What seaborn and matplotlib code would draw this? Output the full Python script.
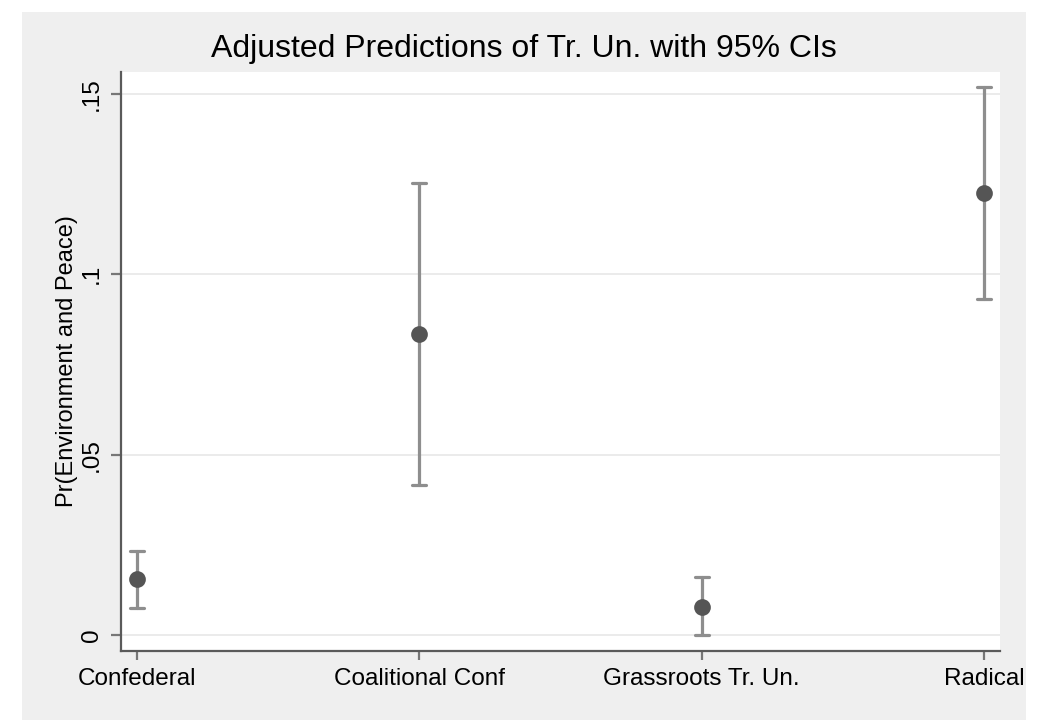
import numpy as np
import pandas as pd
import seaborn as sns
import matplotlib
matplotlib.use("Agg")
import matplotlib.pyplot as plt
from matplotlib.patches import Rectangle

categories = ["Confederal", "Coalitional Conf", "Grassroots Tr. Un.", "Radical"]
estimate = [0.0157, 0.0835, 0.0079, 0.1226]
ci_lower = [0.0076, 0.0417, 0.0000, 0.0932]
ci_upper = [0.0234, 0.1253, 0.0162, 0.1519]
yticks = [0, 0.05, 0.10, 0.15]
yticklabels = ["0", ".05", ".1", ".15"]

title = "Adjusted Predictions of Tr. Un. with 95% CIs"
ylabel = "Pr(Environment and Peace)"

rows = []
for c, lo, e, hi in zip(categories, ci_lower, estimate, ci_upper):
    for v in (lo, e, hi):
        rows.append({"cat": c, "val": v})
df = pd.DataFrame(rows)

sns.set_theme(style="white")
plt.rcParams["font.family"] = ["Liberation Sans", "DejaVu Sans"]

fig = plt.figure(figsize=(10.51, 7.2), dpi=100, facecolor="white")
fig.patches.append(Rectangle((22 / 1051, 0), (1026 - 22) / 1051, (720 - 12) / 720,
                             transform=fig.transFigure, facecolor="#efefef",
                             edgecolor="none", zorder=-10))
ax = fig.add_axes([121 / 1051, 1 - 651 / 720, (1000 - 121) / 1051, (651 - 72) / 720])
ax.set_facecolor("white")

sns.pointplot(data=df, x="cat", y="val", order=categories,
              estimator="median", errorbar=lambda x: (x.min(), x.max()),
              linestyle="none", marker="o", markersize=10, color="#555555",
              capsize=0.05,
              err_kws={"color": "#8e8e8e", "linewidth": 2.3},
              ax=ax)
for coll in ax.collections:
    coll.set_zorder(5)
for ln in ax.lines:
    if ln.get_marker() == "o":
        ln.set_zorder(5)

ax.set_xlim(-0.057, 3.057)
ax.set_ylim(-0.0043, 0.156)
ax.set_yticks(yticks)
ax.set_yticklabels(yticklabels, rotation=90, va="center")
ax.yaxis.grid(True, color="#ebebeb", linewidth=1.4)
ax.set_axisbelow(True)

for s in ["top", "right"]:
    ax.spines[s].set_visible(False)
for s in ["left", "bottom"]:
    ax.spines[s].set_color("#5a5a5a")
    ax.spines[s].set_linewidth(1.6)

ax.tick_params(axis="y", direction="out", length=7, width=1.6, color="#777777",
               labelsize=17.5, pad=6, left=True, labelcolor="black")
ax.tick_params(axis="x", direction="out", length=6.5, width=1.6, color="#777777",
               labelsize=17.5, pad=6, bottom=True, labelcolor="black")

ax.set_xlabel("")
ax.set_ylabel(ylabel, fontsize=17, labelpad=2, color="black")
fig.text(524 / 1051, 1 - 57 / 720, title, fontsize=23, ha="center", va="baseline",
         color="black")

fig.savefig("out.png", dpi=100, facecolor=fig.get_facecolor())
